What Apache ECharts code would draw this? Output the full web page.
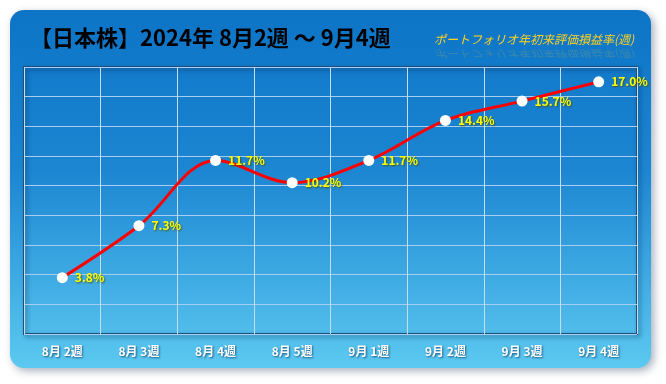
<!DOCTYPE html>
<html><head><meta charset="utf-8">
<script src="https://cdn.jsdelivr.net/npm/echarts@6/dist/echarts.min.js"></script>
<style>html,body{margin:0;padding:0;background:#fff;}#c{width:666px;height:384px;}</style>
</head><body><div id="c"></div>
<script>
const categories = ['8月 2週','8月 3週','8月 4週','8月 5週','9月 1週','9月 2週','9月 3週','9月 4週'];
const values = [3.8, 7.3, 11.7, 10.2, 11.7, 14.4, 15.7, 17.0];
const titleText = '【日本株】2024年 8月2週 ～ 9月4週';
const subtitleText = 'ポートフォリオ年初来評価損益率(週)';
const yMin = 0, yMax = 18, yInterval = 2;

const chart = echarts.init(document.getElementById('c'), null, {renderer: 'canvas'});
const font = '"Noto Sans CJK JP", "Noto Sans", sans-serif';
chart.setOption({
  animation: false,
  graphic: [
    {type: 'rect', z: -10, shape: {x: 10, y: 10, width: 641, height: 358, r: 14},
     style: {fill: new echarts.graphic.LinearGradient(0, 0, 0, 1, [
       {offset: 0, color: '#0d74c6'}, {offset: 0.45, color: '#1c86d2'}, {offset: 1, color: '#5cc9f1'}]),
       shadowColor: 'rgba(60,80,110,0.45)', shadowBlur: 8, shadowOffsetX: 3, shadowOffsetY: 3}},
    {type: 'text', x: 30, y: 27, z: 10,
     style: {text: titleText, font: 'bold 22px ' + font, fill: new echarts.graphic.LinearGradient(0, 0, 0, 1, [
       {offset: 0, color: '#eef4fb'}, {offset: 1, color: '#b4cdea'}]),
       shadowColor: 'rgba(0,30,70,0.75)', shadowBlur: 3, shadowOffsetX: 2, shadowOffsetY: 2}},
    {type: 'text', x: 434, y: 33, z: 10,
     style: {text: subtitleText, font: 'italic 12px ' + font, fill: '#ffd21e',
       shadowColor: 'rgba(0,30,60,0.5)', shadowBlur: 1, shadowOffsetX: 1, shadowOffsetY: 1}},
    {type: 'text', x: 434, y: 58, scaleY: -0.8, z: 9,
     style: {text: subtitleText, font: 'italic 12px ' + font, fill: 'rgba(255,210,30,0.18)'}}
  ],
  grid: {left: 24, right: 29, top: 67, bottom: 50, show: true, borderColor: '#1d4f80', borderWidth: 2,
    backgroundColor: 'rgba(0,0,0,0)', shadowColor: 'rgba(0,30,70,0.5)', shadowBlur: 4, shadowOffsetX: 2, shadowOffsetY: 2},
  xAxis: {
    type: 'category', data: categories, boundaryGap: true,
    axisLine: {show: false}, axisTick: {show: false},
    splitLine: {show: true, lineStyle: {color: '#c6dcef', width: 1}},
    axisLabel: {color: '#ffffff', fontWeight: 'bold', fontSize: 12, fontFamily: font, margin: 11,
      textShadowColor: 'rgba(0,40,80,0.7)', textShadowBlur: 2, textShadowOffsetX: 1, textShadowOffsetY: 1}
  },
  yAxis: {
    type: 'value', min: yMin, max: yMax, interval: yInterval,
    axisLine: {show: false}, axisTick: {show: false}, axisLabel: {show: false},
    splitLine: {show: true, lineStyle: {color: '#a9cdee', width: 1}}
  },
  series: [{
    type: 'line', data: values, smooth: 0.35,
    lineStyle: {color: '#ff0000', width: 3},
    symbol: 'circle', symbolSize: 11,
    itemStyle: {color: '#ffffff', borderWidth: 0},
    label: {show: true, position: 'right', distance: 7, formatter: p => p.value.toFixed(1) + '%',
      color: '#ffff00', fontWeight: 'bold', fontSize: 12, fontFamily: font,
      textShadowColor: 'rgba(70,70,0,0.85)', textShadowBlur: 2, textShadowOffsetX: 1, textShadowOffsetY: 1}
  }]
});
</script></body></html>
